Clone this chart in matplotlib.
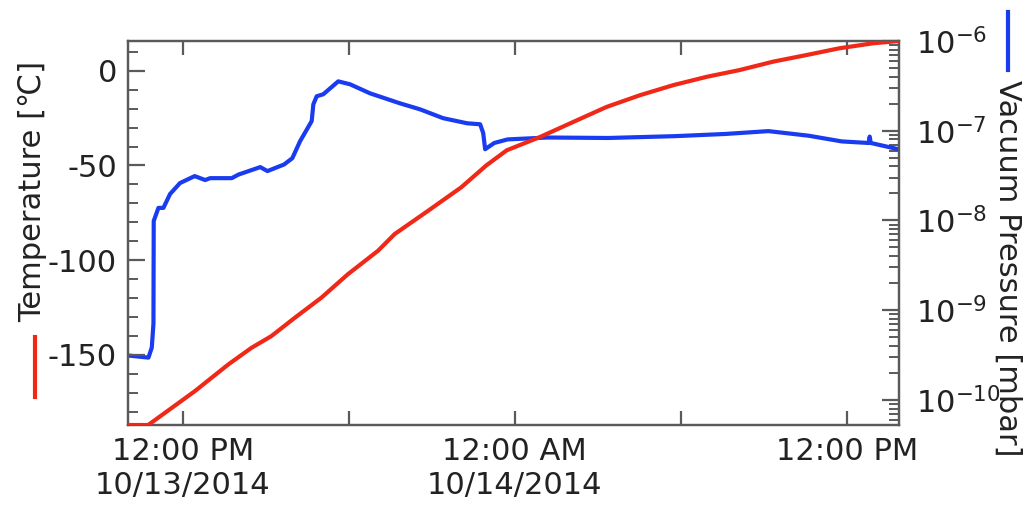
import matplotlib
matplotlib.use("Agg")
import matplotlib.pyplot as plt
from matplotlib.lines import Line2D
from matplotlib.ticker import FixedLocator, MultipleLocator, LogLocator, NullFormatter

plt.rcParams['font.family'] = ['DejaVu Sans']
plt.rcParams['mathtext.default'] = 'regular'
plt.rcParams['axes.unicode_minus'] = False

# hours since 10/13/2014 00:00
temp_hours = [10.0, 10.75, 12.43, 13.64, 14.48, 15.20, 16.05, 17.01, 17.97, 19.06,
              19.66, 20.87, 22.07, 22.97, 23.71, 24.91, 26.12, 27.32, 28.53, 29.73,
              30.94, 32.14, 33.34, 34.55, 35.75, 36.96, 37.89]
temp_c = [-187, -187, -169.2, -155.1, -146.3, -140.1, -130.4, -119.8, -107.4, -95.0,
          -86.2, -73.9, -61.5, -50.0, -42.0, -35.0, -27.0, -19.1, -12.9, -7.6,
          -3.2, 0.4, 4.8, 8.3, 11.9, 14.5, 15.7]

press_hours = [10.03, 10.76, 10.88, 10.94, 10.95, 11.04, 11.12, 11.30, 11.54, 11.90,
               12.43, 12.81, 12.99, 13.77, 14.02, 14.80, 15.06, 15.66, 15.96, 16.24,
               16.66, 16.72, 16.84, 17.08, 17.62, 18.05, 18.77, 19.85, 20.58, 21.41,
               22.28, 22.75, 22.86, 22.93, 23.26, 23.74, 25.19, 27.38, 29.80, 31.61,
               33.17, 34.62, 35.82, 36.79, 36.83, 36.87, 37.89]
press_mbar = [3.12e-10, 2.96e-10, 3.83e-10, 7.08e-10, 9.86e-9, 1.18e-8, 1.38e-8, 1.38e-8, 1.97e-8, 2.61e-8,
              3.12e-8, 2.82e-8, 2.96e-8, 2.96e-8, 3.25e-8, 3.93e-8, 3.55e-8, 4.2e-8, 4.94e-8, 7.64e-8,
              1.28e-7, 1.97e-7, 2.42e-7, 2.55e-7, 3.55e-7, 3.29e-7, 2.61e-7, 2.02e-7, 1.73e-7, 1.38e-7,
              1.21e-7, 1.18e-7, 9.4e-8, 6.22e-8, 7.3e-8, 8.0e-8, 8.4e-8, 8.3e-8, 8.7e-8, 9.2e-8,
              9.9e-8, 8.8e-8, 7.6e-8, 7.3e-8, 8.6e-8, 7.3e-8, 6.2e-8]

x_ticks = [12, 18, 24, 30, 36]
x_labels = ["12:00 PM\n10/13/2014", "", "12:00 AM\n10/14/2014", "", "12:00 PM"]
t_ticks = [0, -50, -100, -150]
p_ticks = [1e-6, 1e-7, 1e-8, 1e-9, 1e-10]
p_labels = [r"$10^{-6}$", r"$10^{-7}$", r"$10^{-8}$", r"$10^{-9}$", r"$10^{-10}$"]

RED = '#f02818'
BLUE = '#1a3cf0'
SPINE = '#5a5a5a'
FS = 22

fig = plt.figure(figsize=(10.28, 5.05), dpi=100)
ax = fig.add_axes([128/1028, 1-425/505, (899-128)/1028, (425-41)/505])
ax2 = ax.twinx()

ax2.plot(press_hours, press_mbar, color=BLUE, lw=3, solid_capstyle='butt', zorder=3)
ax.plot(temp_hours, temp_c, color=RED, lw=3, solid_capstyle='butt', zorder=3)
ax.set_zorder(ax2.get_zorder() + 1)
ax.patch.set_visible(False)

ax.set_xlim(10.02, 37.89)
ax.set_ylim(-187, 15.7)
ax2.set_yscale('log')
ax2.set_ylim(10**-10.28, 10**-6.0)

for a in (ax, ax2):
    for s in a.spines.values():
        s.set_color(SPINE)
        s.set_linewidth(1.6)

ax.xaxis.set_major_locator(FixedLocator(x_ticks))
ax.set_xticklabels(x_labels)
ax.yaxis.set_major_locator(FixedLocator(t_ticks))
ax.yaxis.set_minor_locator(MultipleLocator(10))
ax.tick_params(axis='x', which='major', direction='in', length=10, width=1.6, color=SPINE,
               top=True, labelsize=FS, pad=9, labelcolor='#222222')
ax.tick_params(axis='y', which='major', direction='in', length=12, width=1.6, color=SPINE,
               labelsize=FS, pad=8, labelcolor='#222222')
ax.tick_params(axis='y', which='minor', direction='in', length=7, width=1.4, color=SPINE)

ax2.yaxis.set_major_locator(FixedLocator(p_ticks))
ax2.set_yticklabels(p_labels)
ax2.yaxis.set_minor_locator(LogLocator(base=10, subs=range(2, 10), numticks=20))
ax2.yaxis.set_minor_formatter(NullFormatter())
ax2.tick_params(axis='y', which='major', direction='in', length=12, width=1.6, color=SPINE,
                labelsize=FS, pad=12, labelcolor='#222222')
ax2.tick_params(axis='y', which='minor', direction='in', length=7, width=1.4, color=SPINE)

# axis titles with colour keys
fig.text(33/1028, 1-191/505, "Temperature [\u2103]", rotation=90, fontsize=FS,
         ha='center', va='center', color='#222222')
fig.add_artist(Line2D([35/1028, 35/1028], [1-337/505, 1-397/505], color=RED, lw=3,
                      transform=fig.transFigure))
fig.text(1008/1028, 1-268/505, "Vacuum Pressure [mbar]", rotation=270, fontsize=FS,
         ha='center', va='center', color='#222222')
fig.add_artist(Line2D([1008/1028, 1008/1028], [1-12/505, 1-70/505], color=BLUE, lw=3,
                      transform=fig.transFigure))

fig.savefig("out.png", dpi=100)
